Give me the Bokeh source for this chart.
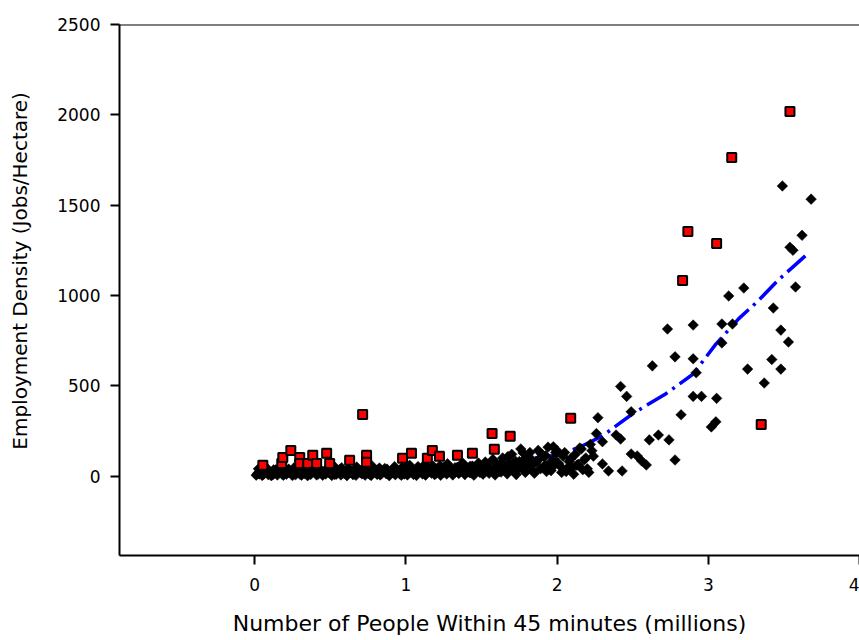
import math
from bokeh.plotting import figure
from bokeh.models import FixedTicker, Span, Range1d
from bokeh.embed import file_html
from bokeh.resources import INLINE

# ---- data (millions of people, jobs/hectare) ----
black_x = [0.02, 0.04, 0.06, 0.08, 0.10, 0.12, 0.14, 0.16, 0.18, 0.20, 0.22, 0.24, 0.26, 0.28, 0.30,
           0.32, 0.34, 0.36, 0.38, 0.40, 0.42, 0.44, 0.46, 0.48, 0.50,
           0.52, 0.54, 0.56, 0.58, 0.60, 0.62, 0.64, 0.66, 0.68, 0.70, 0.72, 0.74, 0.76, 0.78, 0.80,
           0.82, 0.84, 0.86, 0.88, 0.90, 0.92, 0.94, 0.96, 0.98, 1.00,
           1.02, 1.04, 1.06, 1.08, 1.10, 1.12, 1.14, 1.16, 1.18, 1.20, 1.22, 1.24, 1.26, 1.28, 1.30,
           1.32, 1.34, 1.36, 1.38, 1.40, 1.42, 1.44, 1.46, 1.48, 1.50,
           1.52, 1.54, 1.56, 1.58, 1.60, 1.62, 1.64, 1.66, 1.68, 1.70, 1.72, 1.74, 1.76, 1.78, 1.80,
           1.82, 1.84, 1.86,
           1.90, 1.92, 1.94, 1.96, 1.98, 2.00, 2.02, 2.04, 2.06, 2.08, 2.10, 2.12, 2.14, 2.16, 2.18,
           2.20, 2.22, 2.24,
           2.26, 2.27, 2.30, 2.30, 2.34, 2.39, 2.42, 2.43, 2.42, 2.46, 2.49, 2.49, 2.53, 2.56, 2.59,
           2.61, 2.67, 2.74, 2.78, 2.63, 2.78, 2.90, 2.92, 2.82, 2.90, 2.955, 3.055, 3.05, 3.02,
           3.09, 2.73, 2.90, 3.09, 3.16, 3.135, 3.235, 3.26, 3.37, 3.42, 3.48, 3.53, 3.48, 3.43,
           3.577, 3.54, 3.56, 3.62, 3.49, 3.68]
black_y = [15, 25, 10, 30, 18, 8, 35, 22, 12, 40, 28, 15, 45, 20, 10,
           33, 24, 14, 38, 26, 12, 30, 20, 42, 15,
           28, 10, 35, 22, 14, 40, 25, 12, 32, 18, 45, 24, 10, 36, 20,
           30, 14, 42, 26, 16, 38, 22, 12, 34, 48,
           20, 35, 14, 52, 28, 18, 40, 24, 55, 15, 34, 46, 22, 60, 30,
           18, 48, 26, 65, 36, 20, 55, 30, 72, 40,
           22, 60, 35, 85, 48, 25, 100, 58, 30, 120, 70, 40, 150, 90, 55,
           130, 30, 75,
           120, 60, 160, 30, 95, 140, 55, 110, 25, 80, 45, 120, 65, 150, 90,
           40, 175, 110,
           235, 323, 190, 67, 28, 227, 205, 28, 496, 441, 356, 122, 111, 83, 61,
           200, 227, 200, 89, 610, 660, 649, 572, 339, 441, 441, 430, 300, 272,
           737, 814, 836, 842, 842, 997, 1041, 592, 515, 645, 592, 742, 808, 930,
           1047, 1267, 1250, 1333, 1606, 1533]

# further rows of the dense low band
band_x = [0.01, 0.03, 0.05, 0.07, 0.09, 0.11, 0.13, 0.15, 0.17, 0.19, 0.21, 0.23, 0.25, 0.27, 0.29,
          0.31, 0.33, 0.35, 0.37, 0.39, 0.41, 0.43, 0.45, 0.47, 0.49,
          0.51, 0.53, 0.55, 0.57, 0.59, 0.61, 0.63, 0.65, 0.67, 0.69, 0.71, 0.73, 0.75, 0.77, 0.79,
          0.81, 0.83, 0.85, 0.87, 0.89, 0.91, 0.93, 0.95, 0.97, 0.99,
          1.01, 1.03, 1.05, 1.07, 1.09, 1.11, 1.13, 1.15, 1.17, 1.19, 1.21, 1.23, 1.25, 1.27, 1.29,
          1.31, 1.33, 1.35, 1.37, 1.39, 1.41, 1.43, 1.45, 1.47, 1.49,
          1.51, 1.53, 1.55, 1.57, 1.59, 1.61, 1.63, 1.65, 1.67, 1.69, 1.71, 1.73, 1.75, 1.77, 1.79,
          1.81, 1.83, 1.85, 1.87, 1.89, 1.91, 1.93, 1.95, 1.97, 1.99,
          2.01, 2.03, 2.05, 2.07, 2.09, 2.11, 2.13, 2.15, 2.17, 2.19, 2.21, 2.23,
          0.025, 0.075, 0.125, 0.175, 0.225, 0.275, 0.325, 0.375, 0.425, 0.475,
          0.525, 0.575, 0.625, 0.675, 0.725, 0.775, 0.825, 0.875, 0.925, 0.975,
          1.025, 1.075, 1.125, 1.175, 1.225, 1.275, 1.325, 1.375, 1.425, 1.475,
          1.525, 1.575, 1.625, 1.675, 1.725, 1.775, 1.825, 1.875, 1.925, 1.975]
band_y = [5, 12, 3, 20, 8, 2, 16, 6, 25, 4, 10, 18, 3, 7, 22, 5, 14, 2, 9, 28, 6, 17, 4, 11, 20,
          3, 9, 24, 6, 15, 2, 19, 8, 4, 27, 12, 5, 16, 3, 21, 9, 6, 30, 13, 2, 18, 7, 25, 4, 11,
          6, 22, 9, 3, 30, 12, 5, 26, 16, 8, 38, 4, 20, 11, 33, 6, 24, 14, 42, 8, 28, 17, 5, 35, 20,
          10, 45, 15, 28, 6, 52, 22, 38, 12, 65, 30, 8, 80, 44, 20, 100, 60, 15, 85, 40, 110, 25, 70, 50, 130,
          70, 20, 130, 45, 95, 10, 60, 155, 35, 100, 20, 140,
          40, 48, 34, 52, 38, 46, 32, 50, 42, 37,
          54, 46, 35, 50, 41, 57, 44, 38, 52, 47,
          60, 42, 64, 50, 57, 68, 46, 72, 54, 62,
          78, 92, 70, 108, 82, 128, 97, 142, 112, 162]

red_x = [0.054, 0.179, 0.186, 0.239, 0.298, 0.298, 0.351, 0.384, 0.410, 0.476, 0.496, 0.628,
         0.714, 0.740, 0.740, 0.978, 1.037, 1.142, 1.175, 1.222, 1.341, 1.44, 1.57, 1.585,
         1.69, 2.09, 2.83, 2.865, 3.055, 3.155, 3.54, 3.35]
red_y = [59, 70, 103, 142, 103, 70, 70, 115, 70, 126, 70, 87,
         341, 115, 76, 98, 126, 98, 142, 109, 115, 126, 235, 148,
         220, 320, 1083, 1354, 1287, 1763, 2018, 286]

fit_x = [1.40, 1.60, 1.80, 2.00, 2.15, 2.30, 2.50, 2.72, 2.90, 3.05, 3.20, 3.33, 3.46, 3.67]
fit_y = [55, 70, 95, 115, 160, 222, 345, 456, 565, 730, 870, 970, 1083, 1240]

x_ticks = [0, 1, 2, 3, 4]
y_ticks = [0, 500, 1000, 1500, 2000, 2500]
x_title = "Number of People Within 45 minutes (millions)"
y_title = "Employment Density (Jobs/Hectare)"

FONT = "DejaVu Sans"
X0, X1, Y0, Y1 = -0.894, 4.0, -440, 2500

p = figure(width=859, height=640, output_backend="svg", toolbar_location=None,
           x_range=Range1d(X0, X1), y_range=Range1d(Y0, Y1),
           min_border_left=119, min_border_right=0, min_border_top=24, min_border_bottom=85)
p.background_fill_color = "white"
p.border_fill_color = "white"
p.outline_line_color = None
p.xgrid.visible = False
p.ygrid.visible = False

p.line(fit_x, fit_y, line_color="#0000ff", line_width=3.5, line_dash="24 6 3 6")

p.scatter(band_x, band_y, marker="square", size=7.5, angle=math.pi / 4,
          fill_color="black", line_color="black", line_width=0.5)
p.scatter(black_x, black_y, marker="square", size=7.5, angle=math.pi / 4,
          fill_color="black", line_color="black", line_width=0.5)
p.scatter(red_x, red_y, marker="square", size=9, fill_color="#ff0000",
          line_color="black", line_width=2)

# top edge of the frame
p.add_layout(Span(location=Y1, dimension="width", line_color="black", line_width=2))

for ax in (p.xaxis[0], p.yaxis[0]):
    ax.axis_line_width = 2
    ax.axis_line_color = "black"
    ax.major_tick_line_width = 2
    ax.major_tick_line_color = "black"
    ax.major_tick_out = 9
    ax.major_tick_in = 0
    ax.minor_tick_line_color = None
    ax.major_label_text_font = FONT
    ax.major_label_text_font_size = "17px"
    ax.major_label_text_color = "black"
    ax.axis_label_text_font = FONT
    ax.axis_label_text_font_style = "normal"
    ax.axis_label_text_color = "black"

p.xaxis[0].ticker = FixedTicker(ticks=x_ticks)
p.yaxis[0].ticker = FixedTicker(ticks=y_ticks)
p.xaxis[0].major_label_standoff = 13
p.yaxis[0].major_label_standoff = 10

p.xaxis[0].axis_label = x_title
p.xaxis[0].axis_label_text_font_size = "22px"
p.xaxis[0].axis_label_standoff = 17

# leading no-break spaces lift the vertical title a little above the frame centre, as in the reference
p.yaxis[0].axis_label = "\u00a0" * 6 + y_title
p.yaxis[0].axis_label_text_font_size = "20px"
p.yaxis[0].axis_label_standoff = 22

open("out.html", "w").write(file_html(p, INLINE))
